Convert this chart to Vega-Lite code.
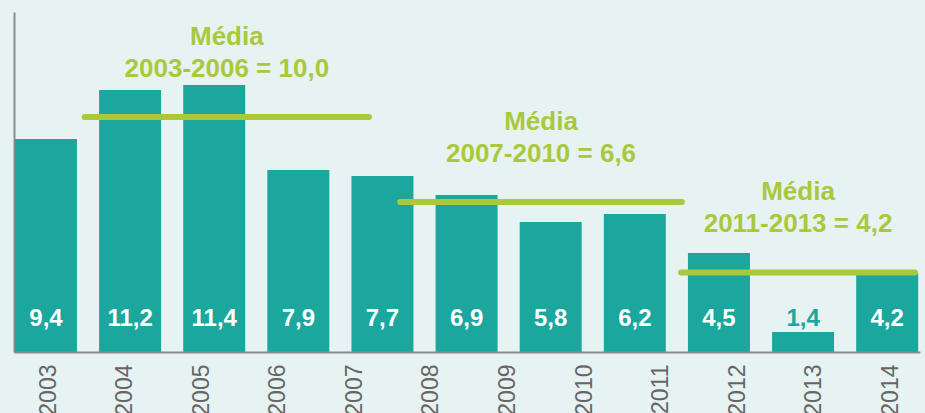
{
  "$schema": "https://vega.github.io/schema/vega-lite/v6.json",
  "width": 906,
  "height": 340,
  "autosize": {"type": "none"},
  "padding": {"left": 14, "top": 12, "right": 5, "bottom": 61},
  "background": "#e7f3f3",
  "config": {"view": {"stroke": null}, "font": "Liberation Sans"},
  "datasets": {
    "barras": [
      {"ano": 2003, "altura": 9.40, "rotulo": "9,4"},
      {"ano": 2004, "altura": 11.56, "rotulo": "11,2"},
      {"ano": 2005, "altura": 11.78, "rotulo": "11,4"},
      {"ano": 2006, "altura": 8.03, "rotulo": "7,9"},
      {"ano": 2007, "altura": 7.76, "rotulo": "7,7"},
      {"ano": 2008, "altura": 6.93, "rotulo": "6,9"},
      {"ano": 2009, "altura": 5.74, "rotulo": "5,8"},
      {"ano": 2010, "altura": 6.09, "rotulo": "6,2"},
      {"ano": 2011, "altura": 4.37, "rotulo": "4,5"},
      {"ano": 2012, "altura": 0.88, "rotulo": "1,4"},
      {"ano": 2013, "altura": 3.49, "rotulo": "4,2"}
    ],
    "medias": [
      {"de": 2003.46, "ate": 2006.84, "media": 10.37, "texto": ["Média", "2003-2006 = 10,0"]},
      {"de": 2007.21, "ate": 2010.56, "media": 6.62, "texto": ["Média", "2007-2010 = 6,6"]},
      {"de": 2010.55, "ate": 2013.33, "media": 3.51, "texto": ["Média", "2011-2013 = 4,2"]}
    ],
    "anos": [
      {"ano": "2003"}, {"ano": "2004"}, {"ano": "2005"}, {"ano": "2006"},
      {"ano": "2007"}, {"ano": "2008"}, {"ano": "2009"}, {"ano": "2010"},
      {"ano": "2011"}, {"ano": "2012"}, {"ano": "2013"}, {"ano": "2014"}
    ]
  },
  "layer": [
    {
      "layer": [
        {
          "data": {"name": "barras"},
          "mark": {"type": "bar", "size": 62, "color": "#1ba79d"},
          "encoding": {
            "x": {"field": "ano", "type": "quantitative",
                  "scale": {"domain": [2002.62, 2013.39], "nice": false, "zero": false, "padding": 0},
                  "axis": null},
            "y": {"field": "altura", "type": "quantitative",
                  "scale": {"domain": [0, 15], "nice": false},
                  "axis": {"labels": false, "ticks": false, "grid": false, "title": null,
                           "domainColor": "#8c8c8c", "domainWidth": 2}}
          }
        },
        {
          "data": {"name": "medias"},
          "mark": {"type": "rule", "strokeWidth": 6, "strokeCap": "round", "color": "#abc83b"},
          "encoding": {
            "x": {"field": "de", "type": "quantitative"},
            "x2": {"field": "ate"},
            "y": {"field": "media", "type": "quantitative"}
          }
        },
        {
          "data": {"name": "medias"},
          "transform": [{"calculate": "(datum.de + datum.ate) / 2", "as": "meio"}],
          "mark": {"type": "text", "fontSize": 26, "fontWeight": "bold", "color": "#abc83b",
                   "align": "center", "baseline": "bottom", "lineHeight": 32, "dy": -67},
          "encoding": {
            "x": {"field": "meio", "type": "quantitative"},
            "y": {"field": "media", "type": "quantitative"},
            "text": {"field": "texto"}
          }
        },
        {
          "data": {"name": "barras"},
          "mark": {"type": "text", "fontSize": 24, "fontWeight": "bold",
                   "align": "center", "baseline": "alphabetic", "dy": -26},
          "encoding": {
            "x": {"field": "ano", "type": "quantitative"},
            "y": {"datum": 0, "type": "quantitative"},
            "text": {"field": "rotulo"},
            "color": {"condition": {"test": "datum.altura < 2", "value": "#1ba79d"}, "value": "#ffffff"}
          }
        }
      ]
    },
    {
      "data": {"name": "anos"},
      "mark": {"type": "point", "opacity": 0},
      "encoding": {
        "x": {"field": "ano", "type": "ordinal",
              "scale": {"type": "point", "padding": 0.42, "align": 0.535},
              "axis": {"orient": "bottom", "labelAngle": -90, "labelFontSize": 23, "labelColor": "#666666",
                       "labelFont": "Liberation Sans", "ticks": false, "title": null,
                       "domainColor": "#8c8c8c", "domainWidth": 2, "labelPadding": 12,
                       "zindex": 1, "grid": false}}
      }
    }
  ],
  "resolve": {"scale": {"x": "independent"}, "axis": {"x": "independent"}}
}
